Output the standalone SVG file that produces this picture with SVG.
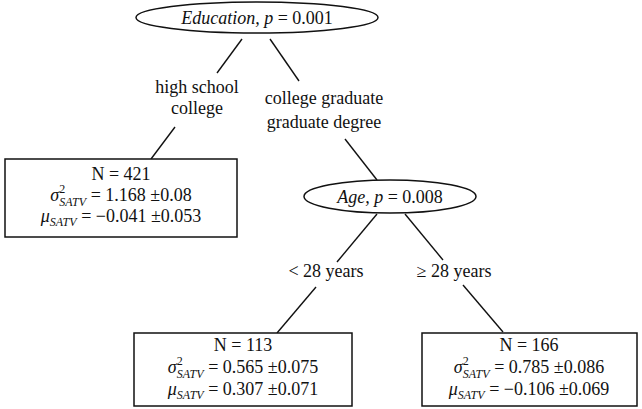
<svg xmlns="http://www.w3.org/2000/svg" width="642" height="409" viewBox="0 0 642 409" font-family="'Liberation Serif', 'Times New Roman', serif">
  <style>
    .edge { stroke: #111; stroke-width: 1.4; fill: none; }
    .split { fill: #fff; stroke: #111; stroke-width: 1.5; }
    .leaf { fill: #fff; stroke: #111; stroke-width: 1.5; }
    text { font-size: 18px; fill: #111; text-anchor: middle; }
    .it { font-style: italic; }
    .sm { font-size: 12px; }
  </style>
  <rect width="642" height="409" fill="#fff"/>

  <!-- connectors and branch labels -->
  <g id="connectors">
    <line class="edge" x1="242" y1="39" x2="217" y2="73"/>
    <line class="edge" x1="270" y1="39" x2="299" y2="81"/>
    <line class="edge" x1="175" y1="127" x2="151" y2="159"/>
    <line class="edge" x1="345" y1="139" x2="377" y2="180"/>
    <line class="edge" x1="377" y1="214" x2="337" y2="262"/>
    <line class="edge" x1="405" y1="214" x2="443" y2="260"/>
    <line class="edge" x1="316" y1="287" x2="277" y2="333"/>
    <line class="edge" x1="463" y1="285" x2="503" y2="332"/>
    <text x="197" y="93">high school</text>
    <text x="197" y="114">college</text>
    <text x="324" y="104">college graduate</text>
    <text x="324" y="128">graduate degree</text>
    <text x="326" y="277">&lt; 28 years</text>
    <text x="454" y="277">≥ 28 years</text>
  </g>

  <g id="education">
    <ellipse class="split" cx="257" cy="17.5" rx="121" ry="15.5"/>
    <text x="257" y="24"><tspan class="it">Education, p</tspan> = 0.001</text>
  </g>

  <g id="leaf-hs">
    <rect class="leaf" x="5" y="159" width="232" height="78"/>
    <text x="121" y="180">N = 421</text>
    <text x="121" y="201"><tspan class="it">σ</tspan><tspan class="sm" dy="-8">2</tspan><tspan class="sm it" dx="-6" dy="13">SATV</tspan><tspan dy="-5"> = 1.168 ±0.08</tspan></text>
    <text x="121" y="222"><tspan class="it">μ</tspan><tspan class="sm it" dy="4">SATV</tspan><tspan dy="-4"> = −0.041 ±0.053</tspan></text>
  </g>

  <g id="age">
    <ellipse class="split" cx="390" cy="196.5" rx="86" ry="16.5"/>
    <text x="390" y="203"><tspan class="it">Age, p</tspan> = 0.008</text>
  </g>

  <g id="leaf-young">
    <rect class="leaf" x="134" y="333" width="218" height="73"/>
    <text x="243" y="351">N = 113</text>
    <text x="243" y="373"><tspan class="it">σ</tspan><tspan class="sm" dy="-8">2</tspan><tspan class="sm it" dx="-6" dy="13">SATV</tspan><tspan dy="-5"> = 0.565 ±0.075</tspan></text>
    <text x="243" y="395"><tspan class="it">μ</tspan><tspan class="sm it" dy="4">SATV</tspan><tspan dy="-4"> = 0.307 ±0.071</tspan></text>
  </g>

  <g id="leaf-old">
    <rect class="leaf" x="422" y="333" width="215" height="73"/>
    <text x="529" y="351">N = 166</text>
    <text x="529" y="373"><tspan class="it">σ</tspan><tspan class="sm" dy="-8">2</tspan><tspan class="sm it" dx="-6" dy="13">SATV</tspan><tspan dy="-5"> = 0.785 ±0.086</tspan></text>
    <text x="529" y="395"><tspan class="it">μ</tspan><tspan class="sm it" dy="4">SATV</tspan><tspan dy="-4"> = −0.106 ±0.069</tspan></text>
  </g>
</svg>
